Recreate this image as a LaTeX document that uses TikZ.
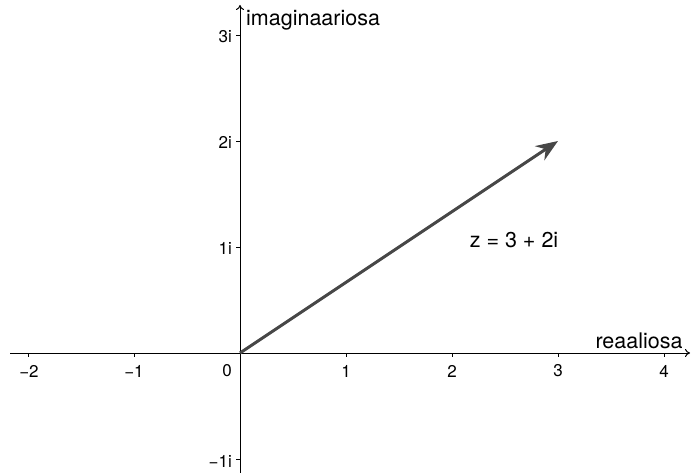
\documentclass[tikz,border=0pt]{standalone}
\usepackage{fontspec}
\setmainfont{TeX Gyre Heros}
\usetikzlibrary{arrows.meta}
\begin{document}
\begin{tikzpicture}[x=1pt,y=-1pt,
  axis/.style={line width=1pt,black,-{To[length=5pt,width=8pt]}},
  tick/.style={line width=0.9pt,black},
  ticklab/.style={font=\fontsize{17}{19}\selectfont,inner sep=0pt},
  axlab/.style={font=\fontsize{21.5}{24}\selectfont,inner sep=0pt},
  vec/.style={line width=3pt,draw=black!72,-{Stealth[length=22pt,width=17pt]}}]
\useasboundingbox (0,0) rectangle (691,473);
\coordinate (O) at (240,353);
\coordinate (xs) at (10,353);
\coordinate (xe) at (690,353);
\coordinate (ys) at (240,473);
\coordinate (ye) at (240,5);
\coordinate (Z) at (558,141);
\draw[axis] (xs) -- (xe);
\draw[axis] (ys) -- (ye);
\foreach \i in {-2,-1,1,2,3,4} {\draw[tick] (240+106*\i,353) -- (240+106*\i,357);}
\foreach \i in {-1,1,2,3} {\draw[tick] (240,353-106*\i) -- (236,353-106*\i);}
\node[ticklab] (xm2) at (29,371) {−2};
\node[ticklab] (xm1) at (134,371) {−1};
\node[ticklab] (x0) at (227,371) {0};
\node[ticklab] (x1) at (346,371) {1};
\node[ticklab] (x2) at (452,371) {2};
\node[ticklab] (x3) at (558,371) {3};
\node[ticklab] (x4) at (664,371) {4};
\node[ticklab,anchor=east] (y3) at (232,37) {3i};
\node[ticklab,anchor=east] (y2) at (232,142) {2i};
\node[ticklab,anchor=east] (y1) at (232,248) {1i};
\node[ticklab,anchor=east] (ym1) at (232,461) {−1i};
\node[axlab,anchor=west] (im) at (246,20) {imaginaariosa};
\node[axlab] (re) at (639,341) {reaaliosa};
\node[axlab] (zl) at (514,240) {z = 3 + 2i};
\draw[vec] (O) -- (Z);
\end{tikzpicture}
\end{document}
